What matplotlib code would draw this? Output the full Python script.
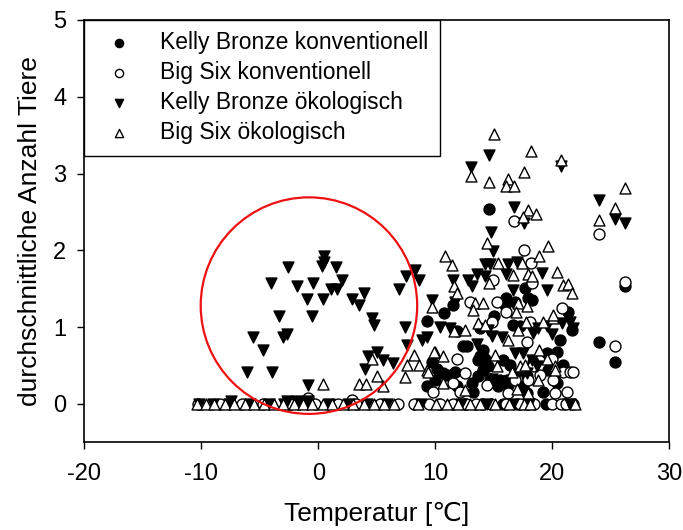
import matplotlib
matplotlib.use("Agg")
import matplotlib.pyplot as plt
from matplotlib.patches import Ellipse

plt.rcParams['font.family'] = ['Liberation Sans', 'DejaVu Sans']
plt.rcParams['axes.unicode_minus'] = False

# Kelly Bronze, konventionell (filled circles)
kb_konv_x = [9.32, 9.69, 9.26, 9.97, 10.12, 10.68, 10.74, 10.97, 11.54, 11.68, 11.83, 11.83,
             12.39, 12.68, 13.11, 13.25, 13.68, 13.68, 13.82, 13.82, 14.10, 14.10, 14.25, 14.53,
             14.56, 14.67, 15.02, 15.38, 15.53, 15.81, 15.96, 16.04, 16.10, 16.24, 16.38, 16.67,
             16.81, 16.81, 17.24, 17.38, 17.52, 17.67, 17.81, 17.81, 17.95, 18.24, 18.38, 19.23,
             19.52, 19.66, 20.23, 20.38, 20.38, 20.66, 20.80, 20.94, 21.37, 21.66, 24.02, 25.36,
             26.21, 10.3, 12.5, 14.0, 15.8, 17.0, 19.5, 21.0]
kb_konv_y = [1.08, 0.55, 0.23, 0.31, 0.46, 0.40, 1.18, 0.38, 1.29, 0.42, 0.95, 0.23,
             0.75, 0.75, 0.27, 0.16, 0.57, 0.36, 0.99, 0.62, 0.70, 0.44, 0.59, 0.49,
             2.54, 0.33, 1.14, 0.23, 0.31, 0.57, 1.29, 1.38, 0.31, 0.25, 0.51, 1.03,
             1.33, 0.40, 1.01, 0.44, 0.23, 1.51, 0.14, 0.36, 1.38, 1.35, 0.55, 0.16,
             0.66, 0.44, 0.40, 0.27, 0.68, 0.83, 0.49, 0.51, 1.20, 0.96, 0.80, 0.54,
             1.54, 0, 0, 0, 0, 0, 0, 0]

# Big Six, konventionell (open circles)
bs_konv_x = [12.97, 14.96, 15.25, 16.04, 16.75, 17.58, 18.18, 18.24, 20.80, 14.82, 18.09, 17.81,
             11.83, 12.54, 11.54, 9.83, 12.11, 14.39, 18.38, 16.81, 17.95, 18.95, 20.09, 20.94,
             21.51, 20.23, 21.23, 16.24, 19.95, 21.79, 24.02, 25.36, 26.21, 2.85, -0.88,
             -10.3, -8.4, -6.5, -4.7, -2.4, -0.3, 1.7, 3.2, 5.3, 6.8, 8.2, 9.5, 10.4, 11.5,
             12.6, 13.5, 14.8, 16.0, 17.2, 18.4, 20.0, 20.7, 21.2, 21.8]
bs_konv_y = [1.33, 1.62, 1.33, 1.20, 2.38, 2.00, 1.83, 1.58, 1.25, 1.07, 1.07, 0.81,
             0.58, 0.40, 0.27, 0.16, 0.16, 0.25, 0.49, 0.31, 0.31, 0.38, 0.31, 0.42,
             0.42, 0.14, 0.16, 0.14, 0.59, 0.42, 2.21, 0.75, 1.59, 0.05, 0.08,
             0, 0, 0, 0, 0, 0, 0, 0, 0, 0, 0, 0, 0, 0,
             0, 0, 0, 0, 0, 0, 0, 0, 0, 0]

# Kelly Bronze, ökologisch (filled down triangles)
kb_oek_x = [0.49, 0.49, -2.56, 0.29, 1.49, -4.04, -1.85, -0.43, 2.00, 1.06, 1.62, -0.99,
            0.43, 2.91, 3.48, 3.93, -3.33, -0.51, 4.62, 4.79, 6.92, 7.44, -5.56, -3.04,
            -2.65, -4.70, -6.12, -3.93, -0.85, 4.02, 4.27, 4.99, 5.56, 6.41, 7.50, 8.26,
            8.63, 8.84, 9.32, 7.56, 9.69,
            14.59, 13.02, 20.77, 16.75, 17.58, 14.74, 14.96, 14.25, 14.67, 16.24, 16.96, 19.09,
            11.54, 12.82, 13.11, 13.59, 14.25, 16.01, 16.67, 19.52, 11.68, 10.40, 11.26, 14.53,
            14.82, 15.68, 18.38, 18.80, 19.52, 20.80, 21.51, 21.79, 13.54, 14.82, 16.81, 17.52,
            18.24, 18.67, 17.81, 24.02, 25.36, 26.21, 19.95,
            -10.2, -9.0, -7.6, -5.8, -4.2, -2.9, -1.6, 0.9, 2.6, 4.2, 5.9, 8.8, 12.2, 14.4,
            16.6, 18.0, 21.5, -7.5, -2.7, -1.8, -0.9]
kb_oek_y = [1.92, 1.85, 1.78, 1.79, 1.78, 1.58, 1.54, 1.58, 1.61, 1.49, 1.49, 1.36,
            1.36, 1.37, 1.29, 1.45, 1.15, 1.15, 1.12, 1.03, 1.49, 1.00, 0.87, 0.87,
            0.91, 0.70, 0.41, 0.41, 0.25, 0.46, 0.62, 0.67, 0.57, 0.53, 1.66, 1.74,
            1.61, 0.83, 0.87, 0.77, 1.35,
            3.24, 3.09, 3.10, 2.57, 2.35, 2.24, 1.99, 1.82, 1.82, 1.82, 1.85, 1.70,
            1.62, 1.61, 1.53, 1.69, 1.66, 1.69, 1.48, 1.48, 1.33, 1.00, 0.99, 0.96,
            0.88, 0.87, 0.92, 0.99, 1.01, 1.05, 1.07, 0.99, 0.78, 0.33, 0.66, 0.66,
            0.57, 0.49, 0.40, 2.66, 2.41, 2.35, 0.91,
            0, 0, 0, 0, 0, 0, 0, 0, 0, 0, 0, 0, 0, 0,
            0, 0, 0, 0.04, 0.04, 0.04, 0.04]

# Big Six, ökologisch (open up triangles)
bs_oek_x = [15.03, 18.15, 20.77, 13.02, 14.62, 17.61, 16.24, 16.04, 16.75, 17.95, 18.58, 17.47,
            14.44, 19.66, 18.89, 10.83, 11.40, 15.38, 17.38, 20.43, 11.62, 11.83, 14.62, 16.67,
            17.95, 18.24, 20.94, 21.37, 21.71, 13.39, 14.05, 13.25, 9.74, 17.09, 16.90, 17.81,
            11.60, 12.54, 13.68, 14.25, 16.24, 17.09, 17.75, 19.23, 20.03, 20.09, 9.97, 10.68,
            9.26, 10.68, 12.54, 15.10, 15.25, 16.53, 17.24, 17.67, 18.89, 19.52, 20.23, 18.80,
            17.90, 16.96, 20.23, 0.43, 3.48, 4.05, 4.99, 5.50, 4.56, 8.18, 7.61, 8.58,
            7.41, 9.38, 9.89, 26.21, 25.36, 24.02,
            -10.4, -9.6, -8.9, -8.0, -7.2, -6.3, -5.5, -4.6, -3.8, -3.0, -2.1, -1.3, -0.5,
            0.4, 1.2, 2.1, 3.0, 3.9, 4.8, 5.6, 6.5, 8.5, 10.1, 11.0, 11.9, 13.0, 13.8,
            15.1, 16.3, 17.6, 18.1, 21.9]
bs_oek_y = [3.52, 3.30, 3.17, 2.97, 2.89, 3.02, 2.93, 2.84, 2.84, 2.52, 2.47, 2.43,
            2.09, 2.06, 1.93, 1.93, 1.81, 1.84, 1.84, 1.72, 1.53, 1.44, 1.58, 1.68,
            1.69, 1.66, 1.55, 1.56, 1.44, 1.32, 1.31, 1.22, 1.26, 1.31, 1.20, 1.27,
            0.95, 0.96, 1.05, 1.03, 0.83, 0.96, 1.07, 1.07, 1.12, 1.16, 0.68, 0.62,
            0.44, 0.27, 0.18, 0.64, 0.49, 0.42, 0.49, 0.51, 0.70, 0.59, 0.49, 0.31,
            0.14, 0.20, 0.44, 0.26, 0.26, 0.26, 0.36, 0.23, 0.59, 0.64, 0.51, 0.51,
            0.35, 0.42, 0.68, 2.81, 2.55, 2.40,
            0, 0, 0, 0, 0, 0, 0, 0, 0, 0, 0, 0, 0,
            0, 0, 0, 0, 0, 0, 0, 0, 0, 0, 0, 0, 0, 0,
            0, 0, 0, 0, 0]

labels = ["Kelly Bronze konventionell", "Big Six konventionell",
          "Kelly Bronze ökologisch", "Big Six ökologisch"]

fig = plt.figure(figsize=(6.83, 5.30), dpi=100)
ax = fig.add_axes([0.1234, 0.1655, 0.8566, 0.7968])

ms = 62
lw = 1.0
ax.scatter(kb_konv_x, kb_konv_y, s=ms, marker='o', facecolor='black', edgecolor='black',
           linewidth=lw, label=labels[0], zorder=3)
ax.scatter(bs_konv_x, bs_konv_y, s=ms, marker='o', facecolor='white', edgecolor='black',
           linewidth=lw, label=labels[1], zorder=3)
ax.scatter(kb_oek_x, kb_oek_y, s=ms, marker='v', facecolor='black', edgecolor='black',
           linewidth=lw, label=labels[2], zorder=3)
ax.scatter(bs_oek_x, bs_oek_y, s=ms, marker='^', facecolor='white', edgecolor='black',
           linewidth=lw, label=labels[3], zorder=3)

# highlight ring around the winter cluster
ring = Ellipse((-0.8, 1.28), width=18.5, height=2.82, fill=False,
               edgecolor='#ee1111', linewidth=1.6, zorder=4)
ax.add_patch(ring)

ax.set_xlim(-20, 30)
ax.set_ylim(-0.5, 5)
ax.set_xticks([-20, -10, 0, 10, 20, 30])
ax.set_yticks([0, 1, 2, 3, 4, 5])
ax.tick_params(axis='both', direction='out', length=5, width=1, labelsize=17)
ax.tick_params(axis='x', pad=10)
ax.tick_params(axis='y', pad=8)
ax.tick_params(top=False, right=False)
for sp in ax.spines.values():
    sp.set_linewidth(1.2)

ax.set_xlabel("Temperatur [℃]", fontsize=19, labelpad=12)
ax.set_ylabel("durchschnittliche Anzahl Tiere", fontsize=19, labelpad=8)

leg = ax.legend(loc='upper left', bbox_to_anchor=(0, 1), borderaxespad=0,
                fontsize=16.5, markerscale=0.75, frameon=True, fancybox=False,
                framealpha=1, edgecolor='black', borderpad=0.5, labelspacing=0.3,
                handlelength=2.0, handletextpad=0.8)
leg.get_frame().set_linewidth(1.0)
leg.set_zorder(5)

fig.savefig("out.png", dpi=100)
